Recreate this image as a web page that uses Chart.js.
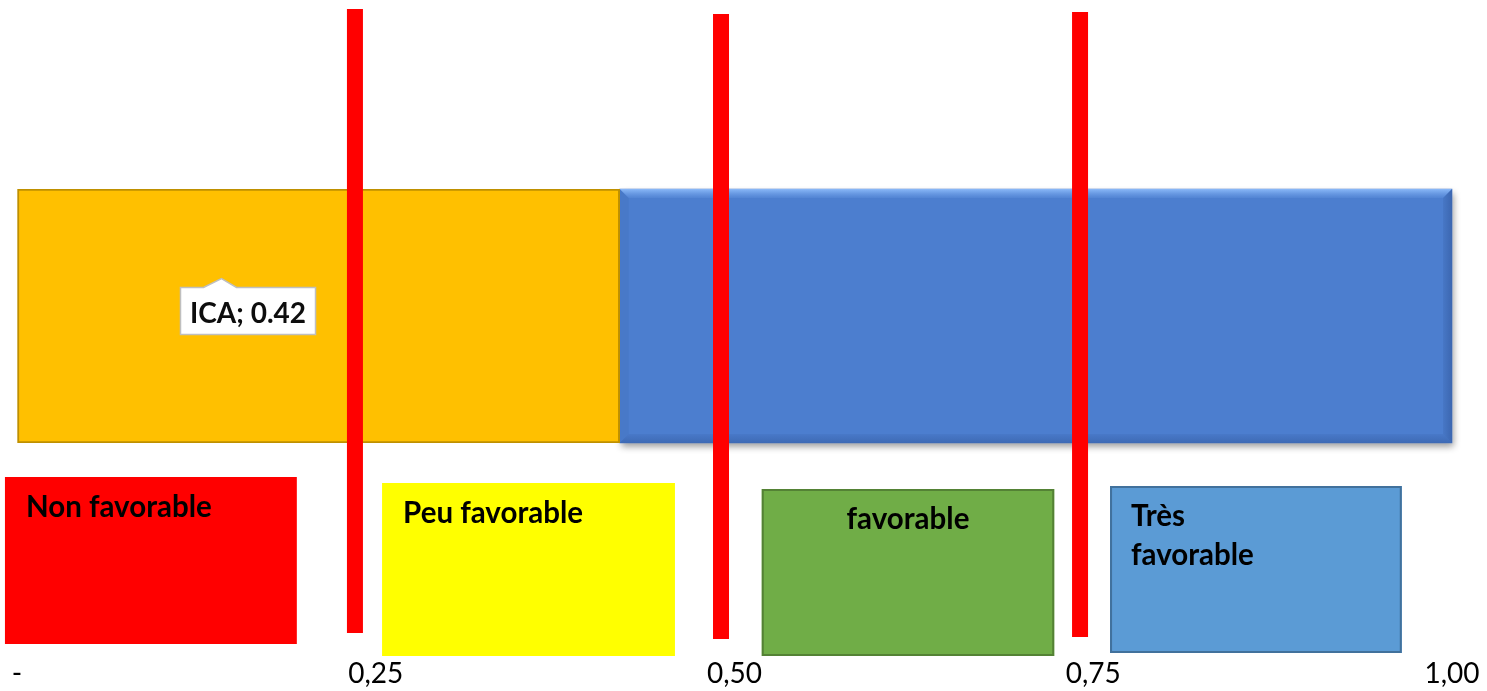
<!DOCTYPE html>
<html lang="fr">
<head>
<meta charset="utf-8">
<title>ICA</title>
<script src="https://cdn.jsdelivr.net/npm/chart.js@4/dist/chart.umd.min.js"></script>
<style>
  html, body { margin: 0; padding: 0; background: #ffffff; }
  #wrap { position: relative; width: 1487px; height: 691px; }
</style>
</head>
<body>
<div id="wrap"><canvas id="c" width="1487" height="691"></canvas></div>
<script>
// Indice ICA sur l'échelle 0 à 1, seuils et classes d'appréciation
const categories = ['ICA'];
const icaValues = [0.42];
const restValues = [0.58];
const tickValues = [0, 0.25, 0.5, 0.75, 1];
const tickLabels = ['-', '0,25', '0,50', '0,75', '1,00'];
const thresholds = [0.2355, 0.4906, 0.7408];
const classLabels = [['Non favorable'], ['Peu favorable'], ['favorable'], ['Très', 'favorable']];
const classColors = ['#FF0000', '#FFFF00', '#70AD47', '#5B9BD5'];
const classBorders = [null, null, '#548235', '#41719C'];

const FONT = 'Lato, "Open Sans", sans-serif';

// Cadres des classes : étendue horizontale en unités de l'axe, décalages verticaux sous la barre
const classBoxes = [
  { from: -0.0084, to: 0.195,  top: 34, height: 167, align: 'left' },
  { from: 0.2544,  to: 0.4585, top: 40, height: 173, align: 'left' },
  { from: 0.519,   to: 0.7228, top: 46, height: 167, align: 'center' },
  { from: 0.7617,  to: 0.965,  top: 43, height: 167, align: 'left' }
];
// Traits verticaux des seuils : débordement au-dessus et au-dessous de la barre
const thresholdReach = [
  { above: 180, below: 190 },
  { above: 175, below: 196 },
  { above: 177, below: 194 }
];

// Ombre portée et biseau de la barre bleue
const bevelPlugin = {
  id: 'bevel',
  beforeDatasetDraw(chart, args) {
    if (args.index !== 1) return;
    const ctx = chart.ctx;
    ctx.save();
    ctx.shadowColor = 'rgba(0,0,0,0.40)';
    ctx.shadowBlur = 7;
    ctx.shadowOffsetX = 2;
    ctx.shadowOffsetY = 4;
  },
  afterDatasetDraw(chart, args) {
    if (args.index !== 1) return;
    const ctx = chart.ctx;
    ctx.restore();
    const el = chart.getDatasetMeta(1).data[0];
    const p = el.getProps(['x', 'y', 'base', 'height'], true);
    const x0 = Math.min(p.base, p.x), x1 = Math.max(p.base, p.x);
    const y0 = p.y - p.height / 2, y1 = p.y + p.height / 2;
    const b = 9;
    ctx.save();
    // haut clair
    let g = ctx.createLinearGradient(0, y0, 0, y0 + b);
    g.addColorStop(0, 'rgba(150,195,255,0.85)');
    g.addColorStop(1, 'rgba(120,170,240,0.15)');
    ctx.fillStyle = g;
    ctx.beginPath();
    ctx.moveTo(x0, y0); ctx.lineTo(x1, y0); ctx.lineTo(x1 - b, y0 + b); ctx.lineTo(x0 + b, y0 + b);
    ctx.closePath(); ctx.fill();
    // gauche
    ctx.fillStyle = 'rgba(40,80,150,0.10)';
    ctx.beginPath();
    ctx.moveTo(x0, y0); ctx.lineTo(x0 + b, y0 + b); ctx.lineTo(x0 + b, y1 - b); ctx.lineTo(x0, y1);
    ctx.closePath(); ctx.fill();
    // droite sombre
    g = ctx.createLinearGradient(x1 - b, 0, x1, 0);
    g.addColorStop(0, 'rgba(30,60,120,0.10)');
    g.addColorStop(1, 'rgba(30,60,120,0.35)');
    ctx.fillStyle = g;
    ctx.beginPath();
    ctx.moveTo(x1, y0); ctx.lineTo(x1, y1); ctx.lineTo(x1 - b, y1 - b); ctx.lineTo(x1 - b, y0 + b);
    ctx.closePath(); ctx.fill();
    // bas sombre
    g = ctx.createLinearGradient(0, y1 - b, 0, y1);
    g.addColorStop(0, 'rgba(30,60,120,0.08)');
    g.addColorStop(1, 'rgba(30,60,120,0.30)');
    ctx.fillStyle = g;
    ctx.beginPath();
    ctx.moveTo(x0, y1); ctx.lineTo(x1, y1); ctx.lineTo(x1 - b, y1 - b); ctx.lineTo(x0 + b, y1 - b);
    ctx.closePath(); ctx.fill();
    ctx.restore();
  }
};

// Seuils, cadres des classes et étiquette de valeur
const overlayPlugin = {
  id: 'overlay',
  afterDatasetsDraw(chart) {
    const ctx = chart.ctx;
    const xs = chart.scales.x;
    const area = chart.chartArea;
    ctx.save();

    // traits rouges des seuils
    ctx.fillStyle = '#FF0000';
    thresholds.forEach((t, i) => {
      const px = xs.getPixelForValue(t);
      const r = thresholdReach[i];
      const top = area.top - r.above;
      const bottom = area.bottom + r.below;
      ctx.fillRect(px - 8, top, 16, bottom - top);
    });

    // cadres des classes
    ctx.font = 'bold 29.5px ' + FONT;
    ctx.textBaseline = 'alphabetic';
    classBoxes.forEach((bx, i) => {
      const left = xs.getPixelForValue(bx.from);
      const right = xs.getPixelForValue(bx.to);
      const top = area.bottom + bx.top;
      ctx.fillStyle = classColors[i];
      ctx.fillRect(left, top, right - left, bx.height);
      if (classBorders[i]) {
        ctx.strokeStyle = classBorders[i];
        ctx.lineWidth = 2;
        ctx.strokeRect(left + 1, top + 1, right - left - 2, bx.height - 2);
      }
      ctx.fillStyle = '#000000';
      ctx.textAlign = bx.align;
      const tx = bx.align === 'center' ? (left + right) / 2 : left + 21;
      classLabels[i].forEach((line, j) => {
        ctx.fillText(line, tx, top + 40 + j * 39);
      });
    });

    // étiquette de la valeur ICA
    const el = chart.getDatasetMeta(0).data[0];
    const p = el.getProps(['x', 'y', 'base'], true);
    const text = categories[0] + '; ' + icaValues[0].toFixed(2);
    ctx.font = 'bold 28px ' + FONT;
    const tw = ctx.measureText(text).width;
    const w = tw + 19, h = 47;
    const cx = p.base + (p.x - p.base) * 0.3825;
    const cy = p.y - 5.5;
    const l = Math.round(cx - w / 2) + 0.5, tp = Math.round(cy - h / 2) + 0.5;
    const tipX = l + 41;
    ctx.beginPath();
    ctx.moveTo(l, tp);
    ctx.lineTo(tipX - 18, tp);
    ctx.lineTo(tipX, tp - 9);
    ctx.lineTo(tipX + 15, tp);
    ctx.lineTo(l + w, tp);
    ctx.lineTo(l + w, tp + h);
    ctx.lineTo(l, tp + h);
    ctx.closePath();
    ctx.fillStyle = '#FFFFFF';
    ctx.fill();
    ctx.strokeStyle = '#BFBFBF';
    ctx.lineWidth = 1.5;
    ctx.stroke();
    ctx.fillStyle = '#0D0D0D';
    ctx.textAlign = 'center';
    ctx.textBaseline = 'alphabetic';
    ctx.fillText(text, l + w / 2, tp + 35);

    ctx.restore();
  }
};

new Chart(document.getElementById('c'), {
  type: 'bar',
  data: {
    labels: categories,
    datasets: [
      {
        label: 'ICA',
        data: icaValues,
        backgroundColor: '#FFC000',
        borderColor: '#BF9000',
        borderWidth: 2,
        borderSkipped: false
      },
      {
        label: 'Complément',
        data: restValues,
        backgroundColor: '#4C7ECF',
        borderWidth: 0,
        clip: false
      }
    ]
  },
  options: {
    indexAxis: 'y',
    responsive: false,
    animation: false,
    layout: { padding: { left: 17, right: 35, top: 189, bottom: 0 } },
    datasets: { bar: { barPercentage: 1, categoryPercentage: 1 } },
    scales: {
      x: {
        type: 'linear',
        stacked: true,
        min: 0,
        max: 1,
        grid: {
          display: true,
          drawOnChartArea: false,
          drawTicks: true,
          tickLength: 217,
          tickColor: 'rgba(0,0,0,0)'
        },
        border: { display: false },
        afterBuildTicks(scale) {
          scale.ticks = tickValues.map(v => ({ value: v }));
        },
        afterFit(scale) {
          scale.height = 248;
        },
        ticks: {
          padding: 0,
          color: '#000000',
          autoSkip: false,
          maxRotation: 0,
          font: { family: FONT, size: 28, lineHeight: 1.0 },
          callback: (v, i) => tickLabels[i]
        }
      },
      y: { stacked: true, display: false }
    },
    plugins: {
      legend: { display: false },
      tooltip: { enabled: false }
    }
  },
  plugins: [bevelPlugin, overlayPlugin]
});
</script>
</body>
</html>
